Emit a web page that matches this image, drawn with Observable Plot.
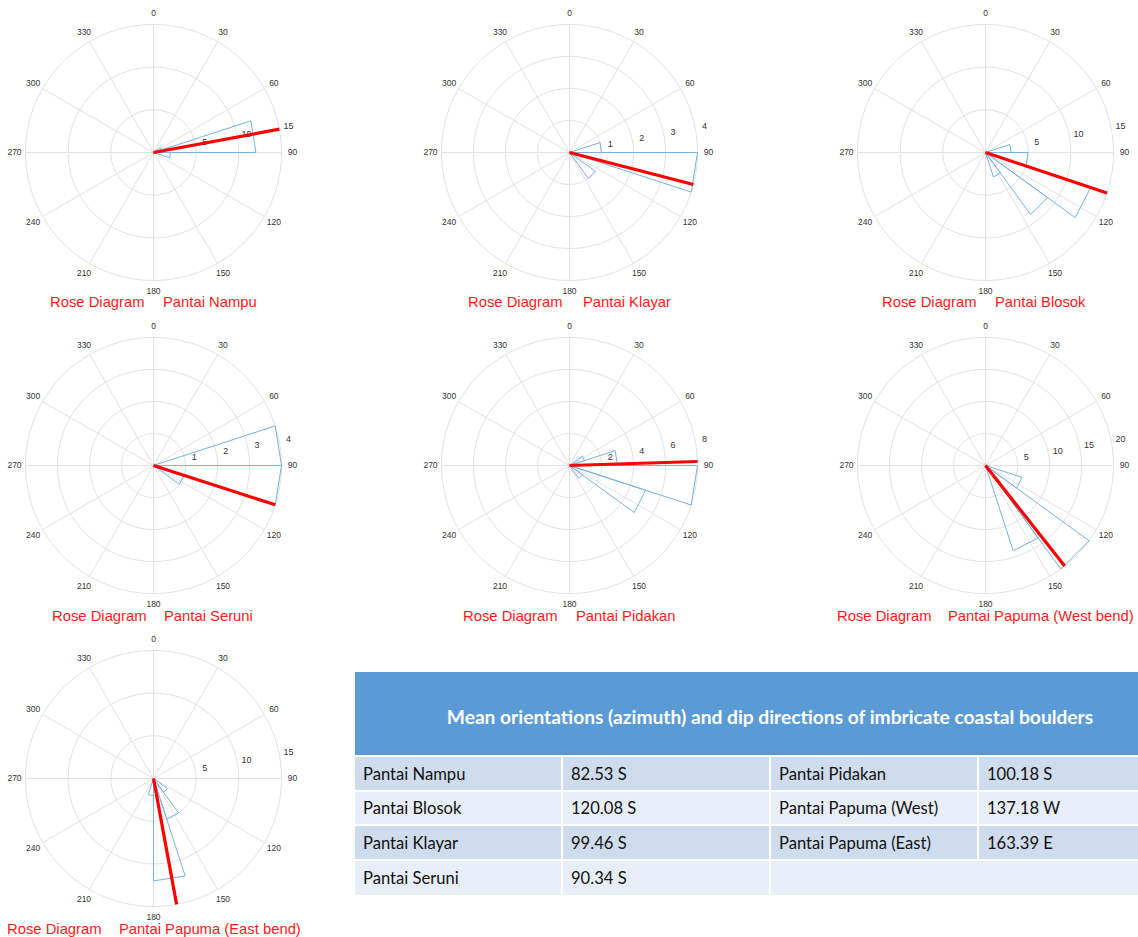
<!DOCTYPE html>
<html>
<head>
<meta charset="utf-8">
<script src="https://cdn.jsdelivr.net/npm/d3@7"></script>
<script src="https://cdn.jsdelivr.net/npm/@observablehq/plot@0.6"></script>
<style>
  html, body { margin: 0; padding: 0; background: #fff; }
  body { width: 1138px; height: 937px; position: relative; overflow: hidden; }
  .rose { position: absolute; }
  .rt { position: absolute; font: 14.8px/15px "Liberation Sans", Arial, sans-serif; color: #ff1a1a; white-space: nowrap; }
  #tbl { position: absolute; left: 355px; top: 672px; width: 830px; font-family: Lato, "Open Sans", sans-serif; }
  #tbl .head { height: 83px; background: #5b9bd5; color: #fff; font-weight: 700; font-size: 19.2px;
               display: flex; align-items: center; justify-content: center; padding-top: 6px; box-sizing: border-box; }
  #tbl table { border-collapse: separate; border-spacing: 2px; margin: 0 -2px; width: 834px; table-layout: fixed; }
  #tbl td { font-size: 16.6px; color: #111; padding: 0 0 0 8px; }
  #tbl tr.dark td { background: #cfdcee; }
  #tbl tr.light td { background: #e8eef7; }
</style>
</head>
<body>
<div id="roses"></div>
<div id="tbl"></div>
<script>
// Site names shown under each rose diagram
const siteNames = ["Pantai Nampu", "Pantai Klayar", "Pantai Blosok", "Pantai Seruni",
                   "Pantai Pidakan", "Pantai Papuma (West bend)", "Pantai Papuma (East bend)"];
// Radial rings (boulder counts) of each diagram; last value is the outer ring
const ringTicks = [[5, 10, 15], [1, 2, 3, 4], [5, 10, 15], [1, 2, 3, 4],
                   [2, 4, 6, 8], [5, 10, 15, 20], [5, 10, 15]];
// Azimuth bins (start of each 18° sector) and the number of boulders in it
const binWidth = 18;
const binStart = [[54, 72, 90], [72, 90, 126], [72, 90, 108, 126, 144], [72, 90, 108],
                  [54, 72, 90, 108, 126], [108, 126, 144], [126, 144, 162, 180]];
const binCount = [[1, 12, 2], [1, 4, 1], [3, 5, 13, 9, 3], [4, 4, 1],
                  [1, 3, 8, 5, 1], [6, 20, 14], [2, 5, 12, 2]];
// Mean direction vector drawn in red
const meanDir = [79.5, 104.5, 108.4, 107.9, 88.2, 141.8, 169.6];
const meanLen = [15, 4, 15, 4, 8, 20, 15];
// Compass labels around every diagram
const azimuthLabels = d3.range(0, 360, 30);

// Table of mean orientations
const tableTitle = "Mean orientations (azimuth) and dip directions of imbricate coastal boulders";
const tableSitesLeft = ["Pantai Nampu", "Pantai Blosok", "Pantai Klayar", "Pantai Seruni"];
const tableValuesLeft = ["82.53 S", "120.08 S", "99.46 S", "90.34 S"];
const tableSitesRight = ["Pantai Pidakan", "Pantai Papuma (West)", "Pantai Papuma (East)"];
const tableValuesRight = ["100.18 S", "137.18 W", "163.39 E"];

// Page layout: diagram centres and caption positions
const centres = [[153, 152], [569, 152], [985, 152], [153, 465], [569, 465], [985, 465], [153, 778]];
const captionX = [[50, 163], [468, 583], [882, 995], [52, 164], [463, 576], [837, 948], [7, 119]];
const captionTop = [295, 295, 295, 609, 609, 609, 922];

const SIZE = 300, R_PX = 128;
const U = (SIZE / 2) / R_PX;
const rad = a => a * Math.PI / 180;

function rosePlot(i) {
  const ticks = ringTicks[i];
  const M = ticks[ticks.length - 1];
  const X = (a, v) => v / M * Math.sin(rad(a));
  const Y = (a, v) => v / M * Math.cos(rad(a));
  const circles = ticks.flatMap(t => d3.range(0, 361, 2).map(a => ({t, a})));
  const petals = binStart[i].flatMap((b, k) => [
    {k, a: b, v: 0}, {k, a: b, v: binCount[i][k]},
    {k, a: b + binWidth, v: binCount[i][k]}, {k, a: b, v: 0}
  ]);
  const labelR = M * 139 / R_PX;
  const tickPad = M * 9.5 / R_PX;
  return Plot.plot({
    width: SIZE, height: SIZE, margin: 0,
    x: {domain: [-U, U], axis: null},
    y: {domain: [-U, U], axis: null},
    style: {background: "transparent", overflow: "visible",
            fontFamily: "'Liberation Sans', Arial, sans-serif"},
    marks: [
      Plot.link(azimuthLabels, {x1: () => 0, y1: () => 0, x2: a => X(a, M), y2: a => Y(a, M),
                                stroke: "#e1e1e1", strokeWidth: 1}),
      Plot.line(circles, {x: d => X(d.a, d.t), y: d => Y(d.a, d.t), z: "t",
                          stroke: "#e1e1e1", strokeWidth: 1}),
      Plot.text(azimuthLabels, {x: a => X(a, labelR), y: a => Y(a, labelR), text: a => String(a),
                                fontSize: 8.5, fill: "#333"}),
      Plot.text(ticks, {x: t => X(79, t + tickPad), y: t => Y(79, t + tickPad), text: t => String(t),
                        fontSize: 9, fill: "#333"}),
      Plot.line(petals, {x: d => X(d.a, d.v), y: d => Y(d.a, d.v), z: "k",
                         stroke: "#78b2e2", strokeWidth: 1}),
      Plot.link([meanDir[i]], {x1: () => 0, y1: () => 0,
                               x2: a => X(a, meanLen[i]), y2: a => Y(a, meanLen[i]),
                               stroke: "#ff0000", strokeWidth: 3.2})
    ]
  });
}

const host = document.getElementById("roses");
siteNames.forEach((name, i) => {
  const svg = rosePlot(i);
  svg.classList.add("rose");
  svg.style.left = (centres[i][0] - SIZE / 2) + "px";
  svg.style.top = (centres[i][1] - SIZE / 2) + "px";
  host.appendChild(svg);
  const a = document.createElement("div");
  a.className = "rt"; a.textContent = "Rose Diagram";
  a.style.left = captionX[i][0] + "px"; a.style.top = captionTop[i] + "px";
  const b = document.createElement("div");
  b.className = "rt"; b.textContent = name;
  b.style.left = captionX[i][1] + "px"; b.style.top = captionTop[i] + "px";
  host.appendChild(a); host.appendChild(b);
});

// Orientation table
const tbl = document.getElementById("tbl");
const head = document.createElement("div");
head.className = "head"; head.textContent = tableTitle;
tbl.appendChild(head);
const table = document.createElement("table");
const heights = [33, 32, 33, 34];
tableSitesLeft.forEach((s, r) => {
  const tr = document.createElement("tr");
  tr.className = r % 2 === 0 ? "dark" : "light";
  tr.style.height = heights[r] + "px";
  const cells = [s, tableValuesLeft[r]];
  if (r < tableSitesRight.length) cells.push(tableSitesRight[r], tableValuesRight[r]);
  cells.forEach(c => { const td = document.createElement("td"); td.textContent = c; tr.appendChild(td); });
  if (r >= tableSitesRight.length) { const td = document.createElement("td"); td.colSpan = 2; tr.appendChild(td); }
  table.appendChild(tr);
});
tbl.appendChild(table);
</script>
</body>
</html>
